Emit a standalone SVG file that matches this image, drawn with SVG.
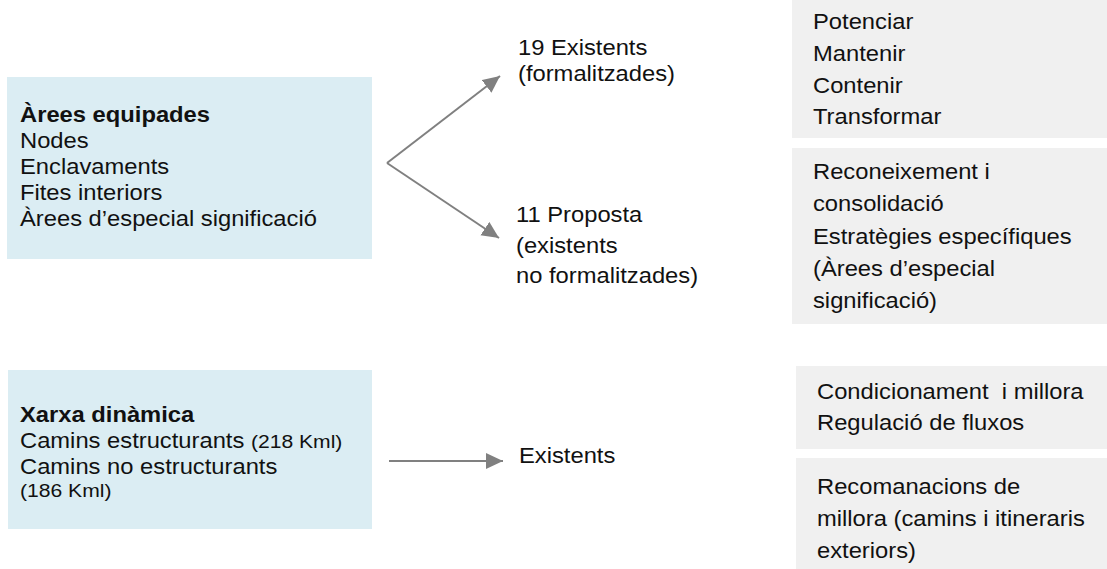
<svg xmlns="http://www.w3.org/2000/svg" width="1107" height="569" viewBox="0 0 1107 569">
<style>
.blue{fill:#dbedf3}
.gray{fill:#f0f0f0}
.t{font-family:"Liberation Sans",Arial,sans-serif;font-size:21.6px;fill:#111}
.b{font-weight:bold}
.s{font-size:19.2px}
.c{stroke:#808080;stroke-width:2;fill:none}
</style>
<defs>
<marker id="ah" markerUnits="userSpaceOnUse" markerWidth="19" markerHeight="17" refX="17" refY="8" orient="auto">
<path d="M0,0 L17,8 L0,16 z" fill="#808080"/>
</marker>
</defs>
<rect width="1107" height="569" fill="#fff"/>
<g id="areas">
<rect class="blue" x="7" y="77" width="365" height="182"/>
<text class="t" transform="translate(20,0) scale(1.1,1)"><tspan class="b" x="0" y="122">Àrees equipades</tspan><tspan x="0" y="148">Nodes</tspan><tspan x="0" y="174">Enclavaments</tspan><tspan x="0" y="200">Fites interiors</tspan><tspan x="0" y="226">Àrees d’especial significació</tspan></text>
</g>
<g id="xarxa">
<rect class="blue" x="8" y="370" width="364" height="159"/>
<text class="t" transform="translate(20,0) scale(1.1,1)"><tspan class="b" x="0" y="422">Xarxa dinàmica</tspan><tspan x="0" y="448">Camins estructurants <tspan class="s">(218 Kml)</tspan></tspan><tspan x="0" y="474">Camins no estructurants</tspan><tspan class="s" x="0" y="497">(186 Kml)</tspan></text>
</g>
<g id="existents19">
<text class="t" transform="translate(518,0) scale(1.1,1)"><tspan x="0" y="55">19 Existents</tspan><tspan x="0" y="81">(formalitzades)</tspan></text>
</g>
<g id="proposta11">
<text class="t" transform="translate(516,0) scale(1.1,1)"><tspan x="0" y="222">11 Proposta</tspan><tspan x="0" y="253">(existents</tspan><tspan x="0" y="283">no formalitzades)</tspan></text>
</g>
<g id="existents">
<text class="t" transform="translate(519,0) scale(1.1,1)"><tspan x="0" y="463">Existents</tspan></text>
</g>
<g id="accions1">
<rect class="gray" x="792" y="0" width="315" height="138"/>
<text class="t" transform="translate(813,0) scale(1.1,1)"><tspan x="0" y="29">Potenciar</tspan><tspan x="0" y="61">Mantenir</tspan><tspan x="0" y="93">Contenir</tspan><tspan x="0" y="124">Transformar</tspan></text>
</g>
<g id="accions2">
<rect class="gray" x="792" y="148" width="315" height="176"/>
<text class="t" transform="translate(813,0) scale(1.1,1)"><tspan x="0" y="179">Reconeixement i</tspan><tspan x="0" y="211">consolidació</tspan><tspan x="0" y="244">Estratègies específiques</tspan><tspan x="0" y="276">(Àrees d’especial</tspan><tspan x="0" y="308">significació)</tspan></text>
</g>
<g id="accions3">
<rect class="gray" x="796" y="366" width="311" height="83"/>
<text class="t" transform="translate(817,0) scale(1.1,1)"><tspan x="0" y="399" xml:space="preserve">Condicionament  i millora</tspan><tspan x="0" y="430">Regulació de fluxos</tspan></text>
</g>
<g id="accions4">
<rect class="gray" x="796" y="458" width="311" height="111"/>
<text class="t" transform="translate(817,0) scale(1.1,1)"><tspan x="0" y="494">Recomanacions de</tspan><tspan x="0" y="526">millora (camins i itineraris</tspan><tspan x="0" y="558">exteriors)</tspan></text>
</g>
<g id="connectors">
<line class="c" x1="387" y1="163" x2="500" y2="76" marker-end="url(#ah)"/>
<line class="c" x1="387" y1="163" x2="499" y2="238" marker-end="url(#ah)"/>
<line class="c" x1="389" y1="461" x2="503" y2="461" marker-end="url(#ah)"/>
</g>
</svg>
